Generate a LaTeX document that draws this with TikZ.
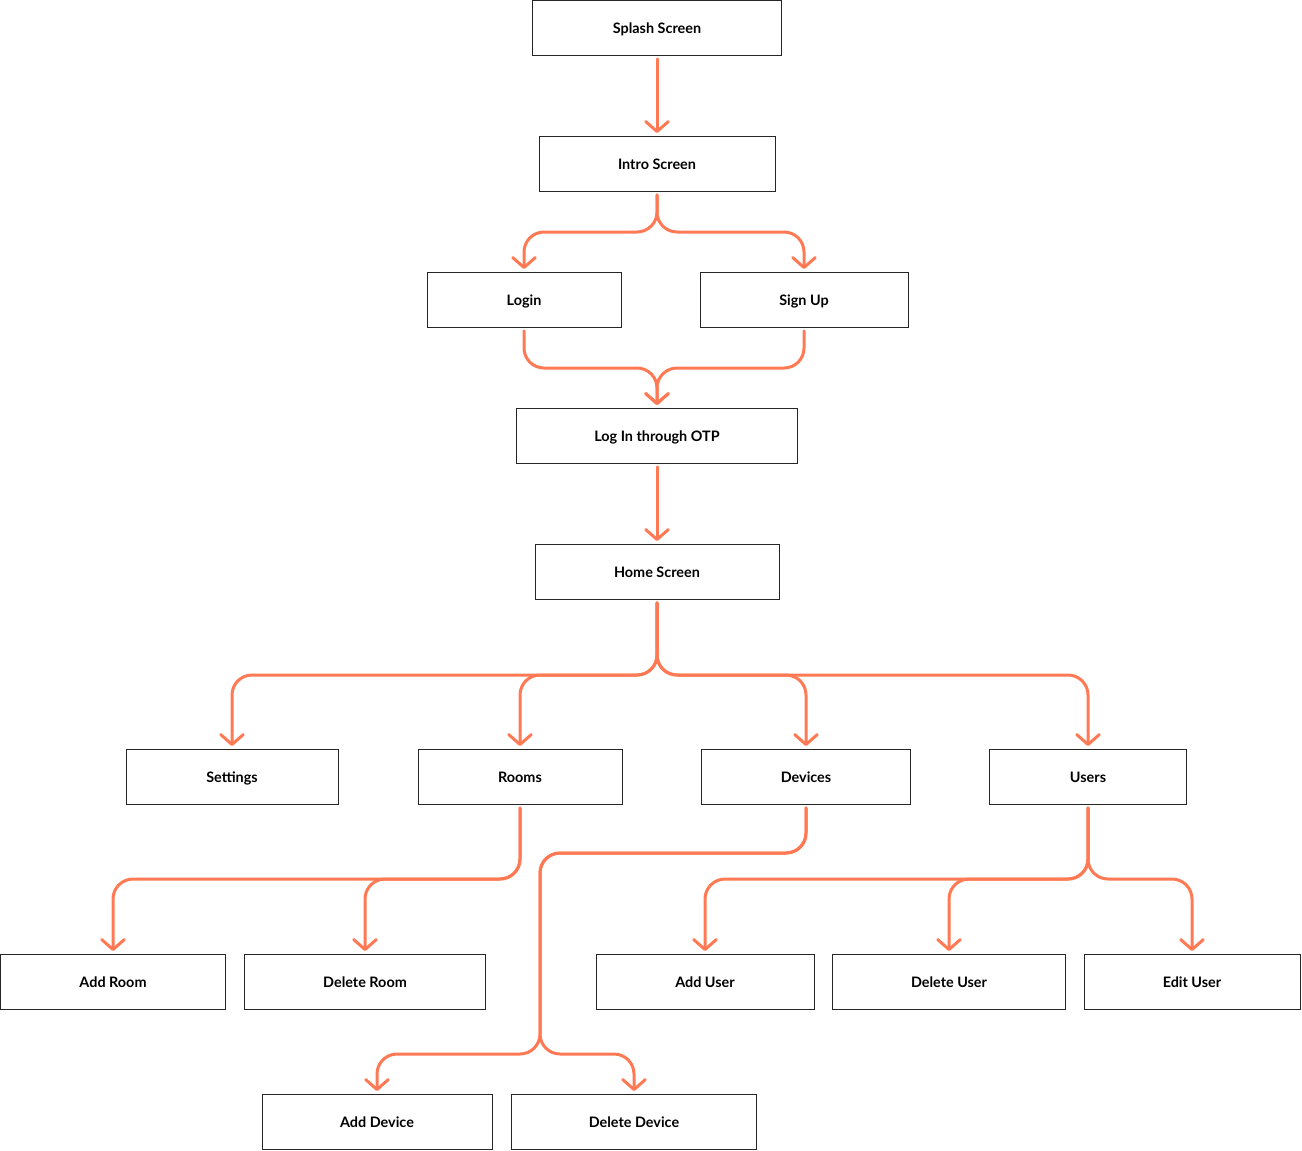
\documentclass[tikz,border=0pt]{standalone}
\usepackage{fontspec}
\setmainfont{Lato}
\usetikzlibrary{arrows.meta}
\definecolor{flowcol}{RGB}{255,122,84}
\tikzset{screen/.style={draw=black!85, line width=0.75pt, minimum height=41.25pt, inner sep=0pt, outer sep=2.6pt, text height=9.5pt, text depth=2pt, font=\fontsize{10.8}{12}\selectfont\bfseries},
         flow/.style={flowcol, line width=2.25pt, rounded corners=15pt, line cap=round, -{Straight Barb[length=7.5pt,width=17pt,round]}}}
\begin{document}
\begin{tikzpicture}[x=0.75pt,y=-0.75pt]
   \useasboundingbox (0,0) rectangle (1302,1150);
   % screens
   \node[screen, minimum width=249*0.75pt] (splash)  at ( 657,  28) {Splash Screen};
   \node[screen, minimum width=236*0.75pt] (intro)   at ( 657, 164) {Intro Screen};
   \node[screen, minimum width=194*0.75pt] (login)   at ( 524, 300) {Login};
   \node[screen, minimum width=208*0.75pt] (signup)  at ( 804, 300) {Sign Up};
   \node[screen, minimum width=281*0.75pt] (otp)     at ( 657, 436) {Log In through OTP};
   \node[screen, minimum width=244*0.75pt] (home)    at ( 657, 572) {Home Screen};
   \node[screen, minimum width=212*0.75pt] (settings) at ( 232, 777) {Settings};
   \node[screen, minimum width=204*0.75pt] (rooms)   at ( 520, 777) {Rooms};
   \node[screen, minimum width=209*0.75pt] (devices) at ( 806, 777) {Devices};
   \node[screen, minimum width=197*0.75pt] (users)   at (1088, 777) {Users};
   \node[screen, minimum width=225*0.75pt] (addroom) at ( 113, 982) {Add Room};
   \node[screen, minimum width=241*0.75pt] (delroom) at ( 365, 982) {Delete Room};
   \node[screen, minimum width=218*0.75pt] (adduser) at ( 705, 982) {Add User};
   \node[screen, minimum width=233*0.75pt] (deluser) at ( 949, 982) {Delete User};
   \node[screen, minimum width=216*0.75pt] (edituser) at (1192, 982) {Edit User};
   \node[screen, minimum width=230*0.75pt] (adddev)  at ( 377,1122) {Add Device};
   \node[screen, minimum width=245*0.75pt] (deldev)  at ( 634,1122) {Delete Device};
   % forks
   \coordinate (introfork) at ( 657, 232);
   \coordinate (otpjoin)   at ( 657, 368);
   \coordinate (homefork)  at ( 657, 675);
   \coordinate (roomfork)  at ( 520, 879);
   \coordinate (devbend)   at ( 540, 853);
   \coordinate (devfork)   at ( 540,1054);
   \coordinate (userfork)  at (1088, 879);
   % connectors
   \draw[flow] (splash) -- (intro);
   \draw[flow] (intro) -- (introfork) -| (login);
   \draw[flow] (intro) -- (introfork) -| (signup);
   \draw[flow] (login) |- (otpjoin) -- (otp);
   \draw[flow] (signup) |- (otpjoin) -- (otp);
   \draw[flow] (otp) -- (home);
   \foreach \s in {settings,rooms,devices,users}
     \draw[flow] (home) -- (homefork) -| (\s);
   \foreach \s in {addroom,delroom}
     \draw[flow] (rooms) -- (roomfork) -| (\s);
   \foreach \s in {adddev,deldev}
     \draw[flow] (devices) |- (devbend) -- (devfork) -| (\s);
   \foreach \s in {adduser,deluser,edituser}
     \draw[flow] (users) -- (userfork) -| (\s);
\end{tikzpicture}
\end{document}
